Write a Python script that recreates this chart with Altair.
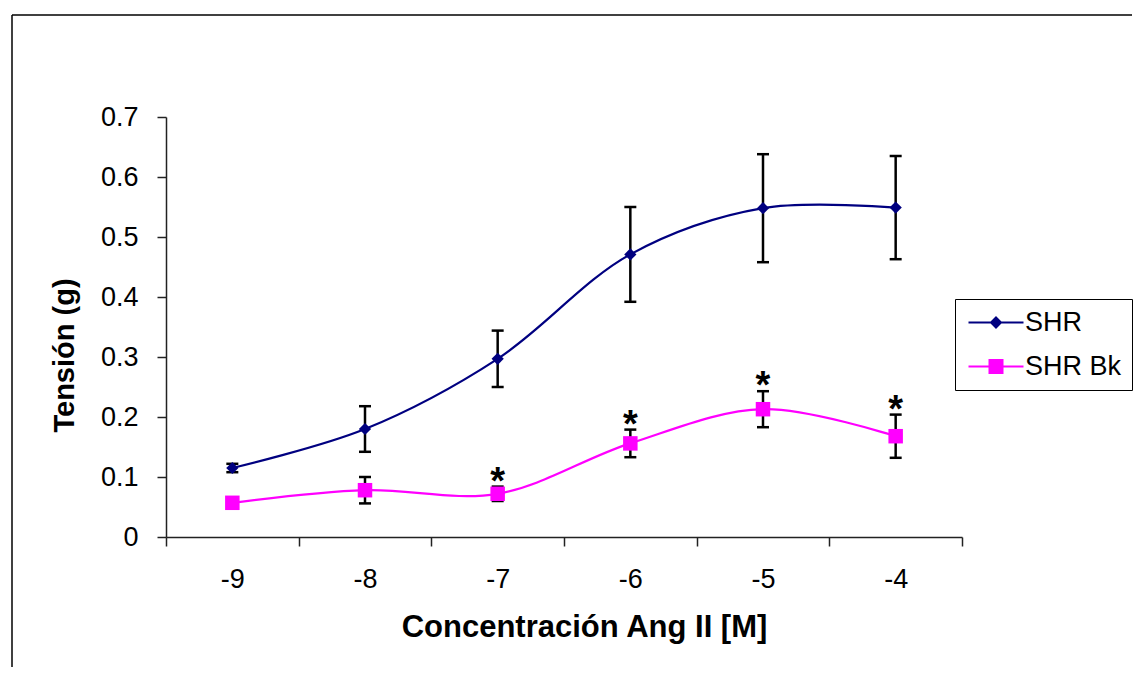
import altair as alt
import pandas as pd

# ---- data ----
conc = ["-9", "-8", "-7", "-6", "-5", "-4"]
shr_mean = [0.115, 0.180, 0.297, 0.471, 0.548, 0.549]
shr_err = [0.007, 0.038, 0.047, 0.079, 0.090, 0.086]
bk_mean = [0.057, 0.078, 0.072, 0.156, 0.213, 0.168]
bk_err = [0.004, 0.022, 0.012, 0.023, 0.030, 0.036]
bk_sig = [False, False, True, True, True, True]
series_names = ["SHR", "SHR Bk"]
series_colors = ["#000080", "#FF00FF"]
y_ticks = [0, 0.1, 0.2, 0.3, 0.4, 0.5, 0.6, 0.7]

FONT = "Liberation Sans"

rows = []
for i, c in enumerate(conc):
    rows.append(dict(conc=c, series="SHR", value=shr_mean[i], err=shr_err[i], sig=False))
    rows.append(dict(conc=c, series="SHR Bk", value=bk_mean[i], err=bk_err[i], sig=bk_sig[i]))
df = pd.DataFrame(rows)
df["lo"] = df["value"] - df["err"]
df["hi"] = df["value"] + df["err"]

x_axis = alt.Axis(
    title="Concentración Ang II [M]", labelAngle=0, tickBand="extent",
    tickSize=9, tickWidth=1.5, tickColor="#222222", domainColor="#222222", domainWidth=1.5,
    labelFont=FONT, labelFontSize=27, labelColor="black", labelPadding=20,
    titleFont=FONT, titleFontSize=31, titleFontWeight="bold", titleColor="black",
    titleX=418, titleY=99, titleBaseline="alphabetic", titleAlign="center", grid=False,
)
y_axis = alt.Axis(
    title="Tensión (g)", values=y_ticks, format=".1~f",
    tickSize=9, tickWidth=1.5, tickColor="#222222", domainColor="#222222", domainWidth=1.5,
    labelFont=FONT, labelFontSize=27, labelColor="black", labelPadding=19,
    titleFont=FONT, titleFontSize=29, titleFontWeight="bold", titleColor="black",
    titleX=-93, titleY=238, titleAngle=270, titleBaseline="alphabetic", titleAlign="center", grid=False,
)

x_scale = alt.Scale(type="band", paddingInner=0, paddingOuter=0)
y_scale = alt.Scale(domain=[0, 0.7], nice=False, zero=True)


def X():
    return alt.X("conc:N", sort=conc, scale=x_scale, axis=x_axis)


def Y(field):
    return alt.Y(f"{field}:Q", scale=y_scale, axis=y_axis)


base = alt.Chart(df)

line_shr = base.transform_filter(alt.datum.series == "SHR").mark_line(
    interpolate="catmull-rom", color=series_colors[0], strokeWidth=2.2
).encode(x=X(), y=Y("value"))
line_bk = base.transform_filter(alt.datum.series == "SHR Bk").mark_line(
    interpolate="catmull-rom", color=series_colors[1], strokeWidth=2.2
).encode(x=X(), y=Y("value"))

err_rule = base.mark_rule(color="black", strokeWidth=2.5).encode(
    x=X(), y=Y("lo"), y2="hi:Q"
)
cap_lo = base.mark_tick(color="black", thickness=2.5, size=12, opacity=1).encode(x=X(), y=Y("lo"))
cap_hi = base.mark_tick(color="black", thickness=2.5, size=12, opacity=1).encode(x=X(), y=Y("hi"))

pts_shr = base.transform_filter(alt.datum.series == "SHR").mark_point(
    shape="diamond", filled=True, size=150, color=series_colors[0], opacity=1
).encode(x=X(), y=Y("value"))
pts_bk = base.transform_filter(alt.datum.series == "SHR Bk").mark_point(
    shape="square", filled=True, size=210, color=series_colors[1], opacity=1
).encode(x=X(), y=Y("value"))

stars = base.transform_filter("datum.sig").mark_text(
    text="*", font=FONT, fontSize=38, fontWeight="bold", baseline="alphabetic", dy=7, color="black"
).encode(x=X(), y=Y("hi"))

# legend (line + marker symbols)
legend_paths = [
    "M-1,0L4.5,0M1.75,-0.5L2.25,0L1.75,0.5L1.25,0Z",
    "M-1,0L4.5,0M1.1,-0.65L2.4,-0.65L2.4,0.65L1.1,0.65Z",
]
leg = alt.Legend(
    title=None, orient="none", legendX=789, legendY=182, direction="vertical",
    strokeColor="black", fillColor="white", padding=10,
    symbolSize=400, symbolStrokeWidth=2, labelOffset=33, rowPadding=16,
    labelFont=FONT, labelFontSize=27, labelColor="black",
)
legend_layer = base.transform_filter("false").mark_point(filled=True, opacity=1, strokeWidth=2).encode(
    x=X(), y=Y("value"),
    fill=alt.Fill("series:N", scale=alt.Scale(domain=series_names, range=series_colors), legend=leg),
    stroke=alt.Stroke("series:N", scale=alt.Scale(domain=series_names, range=series_colors), legend=leg),
    shape=alt.Shape("series:N", scale=alt.Scale(domain=series_names, range=legend_paths), legend=leg),
)

# outer chart-area frame (top and left edges visible in the reference)
frame_df = pd.DataFrame({"k": [0]})
frame_top = alt.Chart(frame_df).mark_rule(color="black", strokeWidth=1.5).encode(
    x=alt.value(-154), x2=alt.value(966), y=alt.value(-102)
)
frame_left = alt.Chart(frame_df).mark_rule(color="black", strokeWidth=1.5).encode(
    x=alt.value(-154), y=alt.value(-102), y2=alt.value(550)
)

chart = alt.layer(
    line_shr, line_bk, err_rule, cap_lo, cap_hi, pts_shr, pts_bk, stars, legend_layer,
    frame_top, frame_left,
).properties(
    width=796, height=420,
    padding={"left": 11, "top": 14, "right": 0, "bottom": 0},
    background="white",
).configure_view(stroke=None)

chart.save("out.html", embed_options={"renderer": "svg", "actions": False})
